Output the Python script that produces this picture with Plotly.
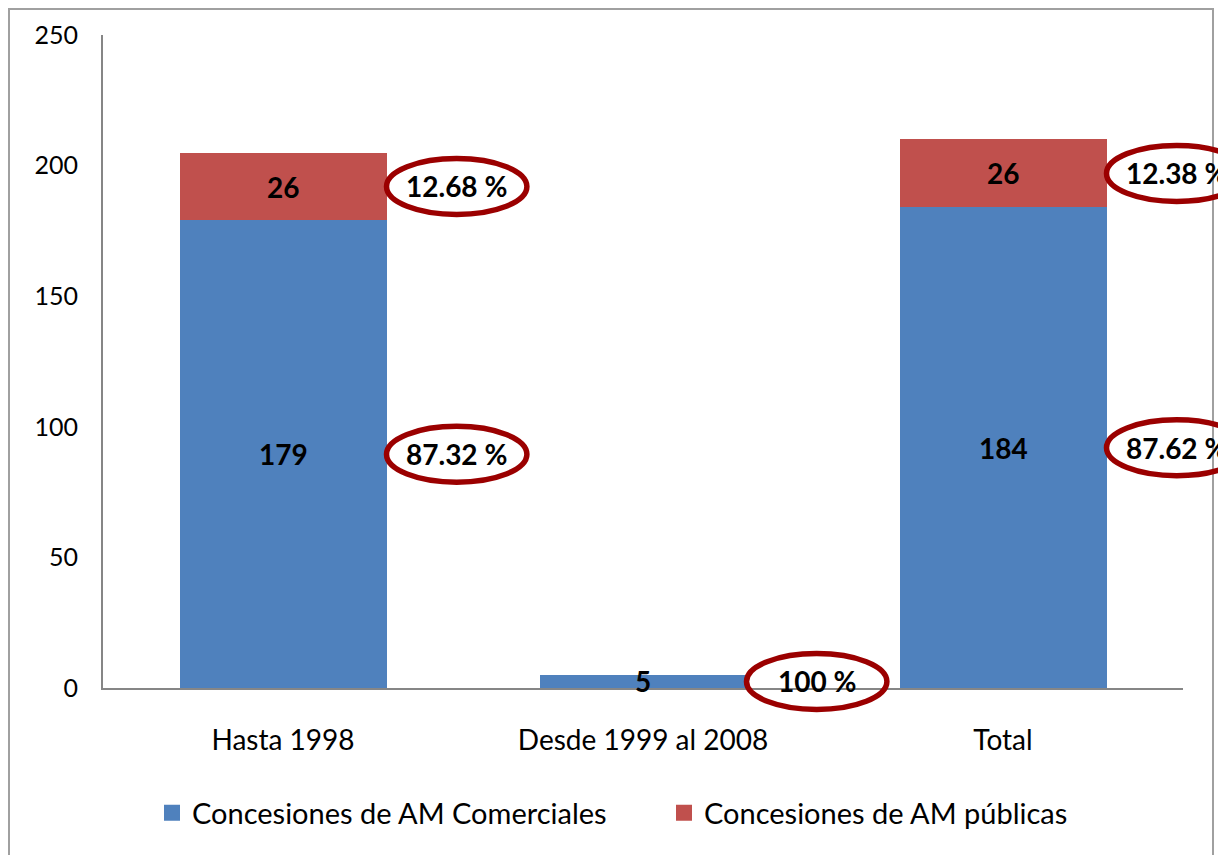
import plotly.graph_objects as go

categories = ["Hasta 1998", "Desde 1999 al 2008", "Total"]
comerciales = [179, 5, 184]
publicas = [26, None, 26]
pct_comerciales = ["87.32 %", "100 %", "87.62 %"]
pct_publicas = ["12.68 %", None, "12.38 %"]
y_ticks = [0, 50, 100, 150, 200, 250]
series_names = ["Concesiones de AM Comerciales", "Concesiones de AM públicas"]

BLUE = "#4F81BD"
RED = "#C0504D"
RING = "#9B0000"
FONT = "Lato"

# page has an 8px body margin, figure positions are relative to the figure
W, H = 1226, 855
ML, MR, MT, MB = 95, 51, 27, 175
PW, PH = W - ML - MR, H - MT - MB
YMAX = 250
BAR_W = 0.575


def xpaper(v):
    return (v + 0.5) / len(categories)


def ypaper(v):
    return v / YMAX


label_font = dict(family=FONT, size=28, color="black", weight="bold")

fig = go.Figure()
fig.add_trace(go.Bar(
    x=categories, y=comerciales, name=series_names[0], showlegend=False,
    marker=dict(color=BLUE, line=dict(width=0)), width=BAR_W,
))
fig.add_trace(go.Bar(
    x=categories, y=publicas, name=series_names[1], showlegend=False,
    marker=dict(color=RED, line=dict(width=0)), width=BAR_W,
))
# legend proxies (square swatches)
for name, col in zip(series_names, [BLUE, RED]):
    fig.add_trace(go.Scatter(
        x=[None], y=[None], mode="markers", name=name,
        marker=dict(symbol="square", size=18, color=col),
    ))

shapes = []
annotations = []
ring_h = 21.4  # in data units
for i, cat in enumerate(categories):
    segs = [(comerciales[i] / 2, comerciales[i], pct_comerciales[i])]
    if publicas[i]:
        segs.append((comerciales[i] + publicas[i] / 2, publicas[i], pct_publicas[i]))
    for mid, value, label in segs:
        # value label centred in the segment
        annotations.append(dict(
            xref="x", yref="y", x=cat, y=mid, text=str(value), showarrow=False,
            xanchor="center", yanchor="middle", font=label_font,
        ))
        x0 = xpaper(i + BAR_W / 2)
        x1 = xpaper(i + BAR_W / 2 + 0.39)
        shapes.append(dict(
            type="circle", xref="paper", yref="paper",
            x0=x0, x1=x1, y0=ypaper(mid - ring_h / 2), y1=ypaper(mid + ring_h / 2),
            line=dict(color=RING, width=5.5), fillcolor="rgba(0,0,0,0)", layer="above",
        ))
        annotations.append(dict(
            xref="paper", yref="paper", x=(x0 + x1) / 2, y=ypaper(mid),
            text=label, showarrow=False, xanchor="center", yanchor="middle",
            font=dict(family=FONT, size=28, color="black", weight="bold"),
        ))

# outer chart frame
shapes.append(dict(
    type="rect", xref="paper", yref="paper", layer="below",
    x0=(1 - ML) / PW, x1=(1205 - ML) / PW,
    y0=(PH + MT - 870) / PH, y1=(PH + MT - 1) / PH,
    line=dict(color="#A0A0A0", width=2), fillcolor="rgba(0,0,0,0)",
))

fig.update_layout(
    width=W, height=H,
    margin=dict(l=ML, r=MR, t=MT, b=MB),
    barmode="stack",
    plot_bgcolor="white", paper_bgcolor="white",
    font=dict(family=FONT, size=28, color="black"),
    showlegend=True,
    legend=dict(
        orientation="h", xref="container", yref="container",
        x=144 / W, xanchor="left", y=1 - 805 / H, yanchor="middle",
        font=dict(family=FONT, size=29, color="black"),
        traceorder="normal", entrywidth=467, entrywidthmode="pixels",
    ),
    xaxis=dict(
        range=[-0.5, 2.5], showline=True, linecolor="#868686", linewidth=1.5,
        ticks="", showgrid=False, tickfont=dict(family=FONT, size=28),
        ticklabelstandoff=27,
    ),
    yaxis=dict(
        range=[0, YMAX], tickvals=y_ticks, showline=True, linecolor="#868686",
        linewidth=2, ticks="", showgrid=False, zeroline=False,
        tickfont=dict(family=FONT, size=25), ticklabelstandoff=18,
    ),
    shapes=shapes, annotations=annotations,
)

fig.write_html("out.html")
